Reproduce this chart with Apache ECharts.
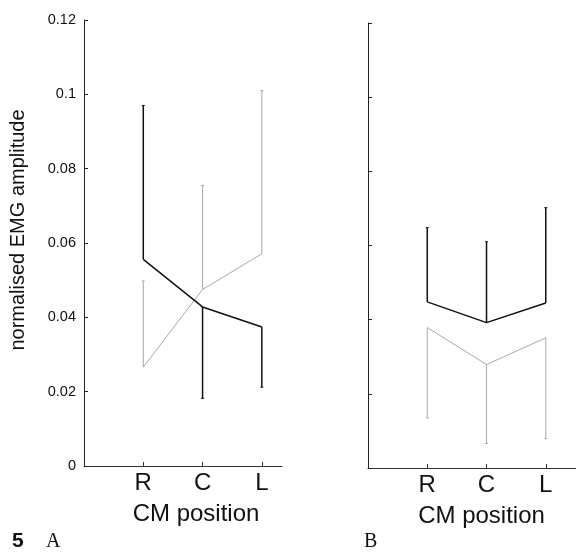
<!DOCTYPE html>
<html>
<head>
<meta charset="utf-8">
<script src="https://cdn.jsdelivr.net/npm/echarts@6/dist/echarts.min.js"></script>
<style>
  html, body { margin: 0; padding: 0; background: #fff; }
  #chart { width: 576px; height: 552px; }
</style>
</head>
<body>
<div id="chart"></div>
<script>
// CM position categories (x = 1, 2, 3)
var positions = ['R', 'C', 'L'];
var posX = [1, 2, 3];

// panel A: mean amplitude and end of the one-sided error bar
var aBlack = [0.0556, 0.0428, 0.0374];
var aBlackEnd = [0.0970, 0.0182, 0.0212];
var aGray = [0.0266, 0.0475, 0.0571];
var aGrayEnd = [0.0498, 0.0755, 0.1010];

// panel B
var bBlack = [0.0448, 0.0392, 0.0445];
var bBlackEnd = [0.0648, 0.0610, 0.0702];
var bGray = [0.0379, 0.0279, 0.0351];
var bGrayEnd = [0.0135, 0.0066, 0.0079];

var font = 'Liberation Sans, Arial, sans-serif';
var dark = '#111';
var light = '#a9a9a9';

function pts(vals) {
  return posX.map(function (x, i) { return [x, vals[i]]; });
}
function bars(vals, ends) {
  return posX.map(function (x, i) { return [x, vals[i], ends[i]]; });
}

function errorSeries(idx, vals, ends, color, width) {
  return {
    type: 'custom',
    xAxisIndex: idx,
    yAxisIndex: idx,
    encode: { x: 0, y: [1, 2] },
    data: bars(vals, ends),
    renderItem: function (params, api) {
      var x = api.value(0);
      var p1 = api.coord([x, api.value(1)]);
      var p2 = api.coord([x, api.value(2)]);
      return {
        type: 'group',
        children: [{
          type: 'line',
          shape: { x1: p1[0], y1: p1[1], x2: p2[0], y2: p2[1] },
          style: { stroke: color, lineWidth: width }
        }, {
          type: 'line',
          shape: { x1: p2[0] - 1.5, y1: p2[1], x2: p2[0] + 1.5, y2: p2[1] },
          style: { stroke: color, lineWidth: 1 }
        }]
      };
    }
  };
}

function lineSeries(idx, vals, color, width) {
  return {
    type: 'line',
    xAxisIndex: idx,
    yAxisIndex: idx,
    data: pts(vals),
    symbol: 'none',
    lineStyle: { color: color, width: width },
    z: 3
  };
}

function xAx(idx, max, shift) {
  return {
    type: 'value',
    gridIndex: idx,
    min: 0,
    max: max,
    interval: 1,
    splitLine: { show: false },
    axisLine: { lineStyle: { color: '#333', width: 1 } },
    axisTick: { inside: true, length: 4, customValues: posX, lineStyle: { color: '#333' } },
    axisLabel: {
      fontFamily: font,
      fontSize: 24,
      color: '#111',
      margin: 5,
      customValues: posX,
      formatter: function (v) { return positions[v - 1] || ''; }
    },
    name: 'CM position',
    nameLocation: 'middle',
    nameGap: 36,
    nameTextStyle: { fontFamily: font, fontSize: 24, color: '#111', padding: [0, 0, 0, shift] }
  };
}

function yAx(idx, labels) {
  return {
    type: 'value',
    gridIndex: idx,
    min: 0,
    max: 0.12,
    interval: 0.02,
    splitLine: { show: false },
    axisLine: { lineStyle: { color: '#222', width: 1 } },
    axisTick: { inside: true, length: 4, lineStyle: { color: '#222' } },
    axisLabel: {
      show: labels,
      fontFamily: font,
      fontSize: 14.5,
      color: '#111',
      margin: 8,
      formatter: function (v) { return String(parseFloat(v.toFixed(2))); }
    },
    name: labels ? 'normalised EMG amplitude' : '',
    nameLocation: 'middle',
    nameGap: 56,
    nameTextStyle: { fontFamily: font, fontSize: 20, color: '#111', padding: [0, 0, 0, 26] }
  };
}

var chart = echarts.init(document.getElementById('chart'));
chart.setOption({
  backgroundColor: '#fff',
  animation: false,
  grid: [
    { left: 84, top: 20, width: 198, height: 446 },
    { left: 368, top: 23, width: 208, height: 445 }
  ],
  xAxis: [xAx(0, 3.34, 26), xAx(1, 3.51, 19)],
  yAxis: [yAx(0, true), yAx(1, false)],
  graphic: [
    { type: 'text', left: 12, top: 531, style: { text: '5', font: 'bold 21px ' + font, fill: '#111' } },
    { type: 'text', left: 46, top: 532, style: { text: 'A', font: '20px Liberation Serif, serif', fill: '#111' } },
    { type: 'text', left: 364, top: 532, style: { text: 'B', font: '20px Liberation Serif, serif', fill: '#111' } }
  ],
  series: [
    errorSeries(0, aGray, aGrayEnd, light, 1),
    lineSeries(0, aGray, light, 1),
    errorSeries(0, aBlack, aBlackEnd, dark, 1.5),
    lineSeries(0, aBlack, dark, 1.5),
    errorSeries(1, bGray, bGrayEnd, light, 1),
    lineSeries(1, bGray, light, 1),
    errorSeries(1, bBlack, bBlackEnd, dark, 1.5),
    lineSeries(1, bBlack, dark, 1.5)
  ]
});
</script>
</body>
</html>
